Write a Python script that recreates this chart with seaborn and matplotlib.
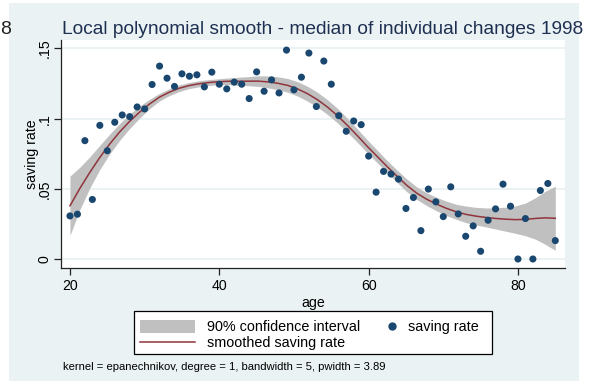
import numpy as np
import pandas as pd
import matplotlib
matplotlib.use("Agg")
import matplotlib.pyplot as plt
from matplotlib.patches import Patch, Rectangle
from matplotlib.lines import Line2D
import seaborn as sns

# Median individual saving-rate change by age
ages = list(range(20, 86))
saving_rate = [
    0.0307, 0.0319, 0.0843, 0.0424, 0.0952, 0.0771, 0.0974, 0.1026, 0.1014, 0.1083,
    0.1069, 0.1243, 0.1374, 0.1288, 0.1229, 0.1319, 0.1302, 0.1312, 0.1226, 0.1331,
    0.1245, 0.1212, 0.1260, 0.1245, 0.1143, 0.1333, 0.1195, 0.1276, 0.1183, 0.1488,
    0.1205, 0.1295, 0.1467, 0.1086, 0.1410, 0.1245, 0.1021, 0.0910, 0.0983, 0.0957,
    0.0733, 0.0476, 0.0624, 0.0605, 0.0569, 0.0360, 0.0438, 0.0202, 0.0498, 0.0407,
    0.0302, 0.0514, 0.0321, 0.0162, 0.0236, 0.0055, 0.0276, 0.0357, 0.0533, 0.0376,
    0.0000, 0.0288, 0.0000, 0.0488, 0.0538, 0.0131,
]

# Smoother settings
kernel_name = "epanechnikov"
degree = 1
bandwidth = 5.0
pilot_width = 3.89
n_grid = 50
z90 = 1.6449

y_ticks = [0.0, 0.05, 0.10, 0.15]
y_tick_labels = ["0", ".05", ".1", ".15"]
x_ticks = [20, 40, 60, 80]

title = "Local polynomial smooth - median of individual changes 1998"
note = (f"kernel = {kernel_name}, degree = {degree}, bandwidth = {bandwidth:g}, "
        f"pwidth = {pilot_width:.2f}")

df = pd.DataFrame({"age": ages, "saving_rate": saving_rate})


def epan(z):
    """Epanechnikov kernel with support |z| < sqrt(5)."""
    k = 0.75 * (1 - z ** 2 / 5) / np.sqrt(5)
    return np.where(np.abs(z) < np.sqrt(5), k, 0.0)


def local_fit(x, y, x0, h, p):
    w = epan((x - x0) / h)
    X = np.vander(x - x0, p + 1, increasing=True)
    XtW = X.T * w
    S = XtW @ X
    beta = np.linalg.solve(S, XtW @ y)
    return beta, X, w, S


def lpoly(x, y, grid, h, p, hp):
    fit, se = [], []
    for x0 in grid:
        beta, X, w, S = local_fit(x, y, x0, h, p)
        Sinv = np.linalg.inv(S)
        V = Sinv @ ((X.T * w ** 2) @ X) @ Sinv
        # pilot estimate of the local residual variance
        bp, Xp, wp, Sp = local_fit(x, y, x0, hp, p + 2)
        resid = y - Xp @ bp
        denom = wp.sum() - np.trace(np.linalg.solve(Sp, (Xp.T * wp ** 2) @ Xp))
        sig2 = np.sum(resid ** 2 * wp) / denom
        fit.append(beta[0])
        se.append(np.sqrt(max(sig2, 0.0) * V[0, 0]))
    return np.array(fit), np.array(se)


xv = df["age"].to_numpy(float)
yv = df["saving_rate"].to_numpy(float)
grid = np.linspace(xv.min(), xv.max(), n_grid)
fit, se = lpoly(xv, yv, grid, bandwidth, degree, pilot_width)
smooth = pd.DataFrame({"age": grid, "fit": fit,
                       "lo": fit - z90 * se, "hi": fit + z90 * se})

# Colours
bg = "#EAF2F3"
navy = "#1A476F"
maroon = "#90353B"
band = "#C0C0C0"

plt.rcParams["font.family"] = ["Liberation Sans", "DejaVu Sans"]

W, H = 589, 381
fig = plt.figure(figsize=(W / 100, H / 100), dpi=100, facecolor="white")
fig.patches.append(Rectangle((9 / W, 0), 570 / W, 1 - 3 / H,
                             transform=fig.transFigure, facecolor=bg,
                             edgecolor="none", zorder=-10))
fig.text(0.001, 1 - 30 / H, "8", fontsize=14, color="#222222",
         va="center", ha="left")

ax = fig.add_axes([61 / W, 1 - 267.7 / H, 504 / W, (267.7 - 40) / H])
ax.set_facecolor("white")

ax.fill_between(smooth["age"], smooth["lo"], smooth["hi"], color=band,
                linewidth=0, zorder=2)
sns.lineplot(data=smooth, x="age", y="fit", ax=ax, color=maroon, lw=1.1,
             zorder=3, legend=False)
sns.scatterplot(data=df, x="age", y="saving_rate", ax=ax, color=navy, s=26,
                edgecolor="none", zorder=4, legend=False)

ax.set_xlim(18.8, 86.3)
ax.set_ylim(-0.0062, 0.156)
ax.set_xticks(x_ticks)
ax.set_yticks(y_ticks)
ax.set_yticklabels(y_tick_labels, rotation=90, va="center")
ax.grid(axis="y", color=bg, lw=1.4, zorder=0)
ax.set_axisbelow(True)
ax.tick_params(axis="both", direction="out", length=5, width=0.9,
               color="#222222", labelsize=10.2, labelcolor="black", pad=3)
ax.tick_params(axis="y", pad=2)
for side in ["top", "right"]:
    ax.spines[side].set_visible(False)
for side in ["left", "bottom"]:
    ax.spines[side].set_color("#222222")
    ax.spines[side].set_linewidth(0.9)
ax.set_xlabel("age", fontsize=10.2, labelpad=2)
ax.set_ylabel("saving rate", fontsize=10.2, labelpad=-1)

fig.text(322.5 / W, 1 - 30 / H, title, fontsize=13.8, color="#1E2F52",
         ha="center", va="center")

# Legend: two columns inside one framed box
leg_fs = 10.4
fig.patches.append(Rectangle((134 / W, 1 - 354 / H), (492 - 134) / W, 43 / H,
                             transform=fig.transFigure, facecolor="white",
                             edgecolor="black", linewidth=0.9, zorder=5))
leg1 = fig.legend([Patch(facecolor=band, edgecolor="none"),
                   Line2D([], [], color=maroon, lw=1.1)],
                  ["90% confidence interval", "smoothed saving rate"],
                  loc="upper left", bbox_to_anchor=(140 / W, 1 - 320 / H),
                  frameon=False, fontsize=leg_fs, borderpad=0,
                  borderaxespad=0, handlelength=3.8, handleheight=1.0,
                  handletextpad=0.83, labelspacing=0.1)
leg1.set_zorder(6)
leg2 = fig.legend([Line2D([], [], marker="o", ls="none", color=navy,
                          markersize=5)],
                  ["saving rate"],
                  loc="upper left", bbox_to_anchor=(385 / W, 1 - 320 / H),
                  frameon=False, fontsize=leg_fs, borderpad=0,
                  borderaxespad=0, handlelength=1.0, handletextpad=0.6)
leg2.set_zorder(6)

fig.text(63 / W, 1 - 367 / H, note, fontsize=8.1, color="black",
         ha="left", va="center")

fig.savefig("out.png", dpi=100, facecolor="white")
